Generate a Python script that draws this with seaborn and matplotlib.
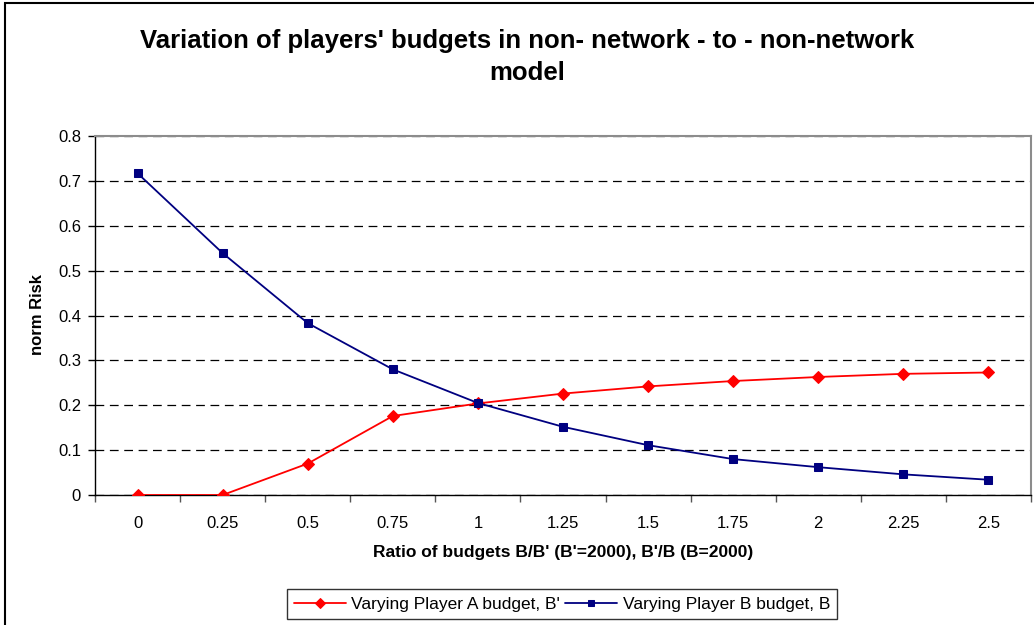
import numpy as np
import pandas as pd
import matplotlib
matplotlib.use("Agg")
import matplotlib.pyplot as plt
from matplotlib.patches import Rectangle
import seaborn as sns

# Budget ratios on the category axis
ratios = ["0", "0.25", "0.5", "0.75", "1", "1.25", "1.5", "1.75", "2", "2.25", "2.5"]

# Normalised risk for each experiment
risk_vary_a = [0.0, 0.0, 0.070, 0.176, 0.204, 0.226, 0.242, 0.254, 0.263, 0.270, 0.273]
risk_vary_b = [0.717, 0.539, 0.383, 0.280, 0.205, 0.152, 0.111, 0.080, 0.062, 0.046, 0.034]

y_ticks = [0, 0.1, 0.2, 0.3, 0.4, 0.5, 0.6, 0.7, 0.8]
y_tick_labels = ["0", "0.1", "0.2", "0.3", "0.4", "0.5", "0.6", "0.7", "0.8"]

label_a = "Varying Player A budget, B'"
label_b = "Varying Player B budget, B"

sns.set_style("white")
plt.rcParams["font.family"] = ["Liberation Sans", "DejaVu Sans"]
plt.rcParams["text.color"] = "black"
plt.rcParams["xtick.color"] = "black"
plt.rcParams["ytick.color"] = "black"
plt.rcParams["axes.labelcolor"] = "black"

W, H = 1034, 625
fig = plt.figure(figsize=(W / 100, H / 100), dpi=100)
ax = fig.add_axes([95 / W, 1 - 495 / H, (1031 - 95) / W, (495 - 136) / H])

pos = np.arange(len(ratios))
df = pd.DataFrame({"pos": pos, "a": risk_vary_a, "b": risk_vary_b})

sns.lineplot(data=df, x="pos", y="a", ax=ax, color="#FF0000", marker="D",
             markersize=6, markeredgecolor="#FF0000", linewidth=1.3,
             label=label_a, zorder=4)
sns.lineplot(data=df, x="pos", y="b", ax=ax, color="#000080", marker="s",
             markersize=5.6, markeredgecolor="#000080", linewidth=1.3,
             label=label_b, zorder=5)

ax.set_xlim(-0.5, len(ratios) - 0.5)
ax.set_ylim(0, 0.8)

# Category boundaries carry the tick marks; labels sit at category centres
ax.set_xticks(np.arange(-0.5, len(ratios), 1.0))
ax.set_xticklabels([])
ax.set_xticks(pos, minor=True)
ax.set_xticklabels(ratios, minor=True)
ax.tick_params(axis="x", which="major", direction="out", length=5, width=1,
               color="#555555", bottom=True)
ax.tick_params(axis="x", which="minor", length=0, pad=15, labelsize=12,
               labelcolor="black", bottom=True)

ax.set_yticks(y_ticks)
ax.set_yticklabels(y_tick_labels)
ax.tick_params(axis="y", direction="out", length=5, width=1, color="black",
               pad=5, labelsize=12, labelcolor="black", left=True)

ax.yaxis.grid(True, color="black", linestyle=(0, (7, 4.5)), linewidth=0.9)
ax.xaxis.grid(False)
ax.set_axisbelow(True)

for side in ["left", "bottom"]:
    ax.spines[side].set_color("black")
    ax.spines[side].set_linewidth(1.0)
for side in ["top", "right"]:
    ax.spines[side].set_color("#8c8c8c")
    ax.spines[side].set_linewidth(1.5)

ax.set_xlabel("")
ax.set_ylabel("")

fig.text(37 / W, 1 - 315 / H, "norm Risk", rotation=90, ha="center", va="center",
         fontsize=12, fontweight="bold", color="black")
fig.text(563 / W, 1 - 553 / H, "Ratio of budgets B/B' (B'=2000), B'/B (B=2000)",
         ha="center", va="center", fontsize=12.5, fontweight="bold", color="black")
fig.text(527 / W, 1 - 57 / H,
         "Variation of players' budgets in non- network - to - non-network\nmodel",
         ha="center", va="center", fontsize=18.5, fontweight="bold", linespacing=1.4,
         color="black")

handles, labels = ax.get_legend_handles_labels()
ax.get_legend().remove()
leg = fig.legend(handles, labels, loc="center", bbox_to_anchor=(562 / W, 1 - 604 / H),
                 ncol=2, frameon=True, fancybox=False, fontsize=12.5,
                 handlelength=3.0, handletextpad=0.3, columnspacing=0.3,
                 borderpad=0.4, borderaxespad=0)
leg.get_frame().set_edgecolor("black")
leg.get_frame().set_linewidth(1.0)
for t in leg.get_texts():
    t.set_color("black")
for h in leg.legend_handles:
    h.set_markersize(5)

# Chart frame
fig.patches.append(Rectangle((5 / W, -0.02), 1.1, 1 - 3 / H + 0.02,
                             transform=fig.transFigure, fill=False,
                             edgecolor="black", linewidth=1.5))

fig.savefig("out.png", dpi=100, facecolor="white")
